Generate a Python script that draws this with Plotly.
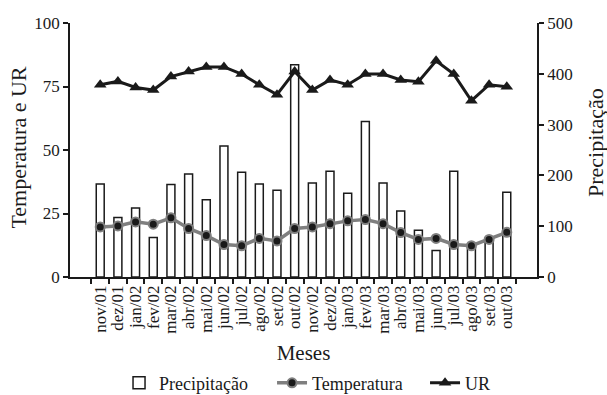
import plotly.graph_objects as go

meses = ["nov/01","dez/01","jan/02","fev/02","mar/02","abr/02","mai/02","jun/02","jul/02","ago/02","set/02","out/02",
         "nov/02","dez/02","jan/03","fev/03","mar/03","abr/03","mai/03","jun/03","jul/03","ago/03","set/03","out/03"]
precipitacao = [183,117,136,78,182,203,152,258,206,183,171,418,
                185,208,165,306,185,130,92,52,208,62,70,167]
temperatura = [19.7,20.1,21.7,20.8,23.3,19.1,16.3,12.8,12.3,15.2,14.2,19.1,
               19.7,21.0,22.1,22.6,21.0,17.5,14.8,15.2,12.8,12.3,14.8,17.6]
ur = [75.7,77.0,74.6,73.6,78.9,80.9,82.7,82.7,79.9,75.7,71.8,80.9,
      73.6,77.6,75.7,79.9,79.9,77.6,76.9,85.1,79.9,69.4,75.7,74.9]

FONT = "Liberation Serif"
INK = "#1a1a1a"

def f(size):
    return dict(family=FONT, size=size, color=INK)

fig = go.Figure()
fig.add_trace(go.Bar(x=meses, y=precipitacao, name="Precipitação", yaxis="y",
                     marker=dict(color="white", line=dict(color=INK, width=1.5)),
                     width=0.45))
fig.add_trace(go.Scatter(x=meses, y=temperatura, name="Temperatura", yaxis="y2", mode="lines+markers",
                         line=dict(color="#7f7f7f", width=3.5),
                         marker=dict(symbol="circle", size=9, color=INK, line=dict(color="#7f7f7f", width=2))))
fig.add_trace(go.Scatter(x=meses, y=ur, name="UR", yaxis="y2", mode="lines+markers",
                         line=dict(color=INK, width=3),
                         marker=dict(symbol="triangle-up", size=11, color=INK)))

axis_common = dict(showline=True, linecolor=INK, linewidth=1.5, ticks="outside", ticklen=5,
                   tickcolor=INK, tickwidth=1.5, showgrid=False, zeroline=False, tickfont=f(17),
                   automargin=False)

fig.update_layout(
    width=607, height=395,
    margin=dict(l=70, r=70, t=23, b=118, autoexpand=False),
    plot_bgcolor="white", paper_bgcolor="white",
    font=f(17),
    xaxis=dict(type="category", tickmode="array", tickvals=meses, ticktext=meses,
               tickson="boundaries", tickangle=-90,
               title=dict(text="Meses", font=f(21), standoff=15), **axis_common),
    yaxis=dict(side="right", range=[0, 500], tickvals=[0,100,200,300,400,500], **axis_common),
    yaxis2=dict(side="left", overlaying="y", range=[0, 100], tickvals=[0,25,50,75,100], **axis_common),
    legend=dict(orientation="h", x=0.105, xanchor="left", yref="container", y=0.03, yanchor="middle",
                font=f(18), itemwidth=30, entrywidth=108, bgcolor="rgba(0,0,0,0)"),
    showlegend=True,
    annotations=[
        dict(text="Temperatura e UR", xref="paper", yref="paper", x=-0.111, y=0.51,
             xanchor="center", yanchor="middle", textangle=-90, showarrow=False, font=f(22)),
        dict(text="Precipitação", xref="paper", yref="paper", x=1.124, y=0.531,
             xanchor="center", yanchor="middle", textangle=-90, showarrow=False, font=f(22)),
    ],
)
fig.write_html("out.html")
